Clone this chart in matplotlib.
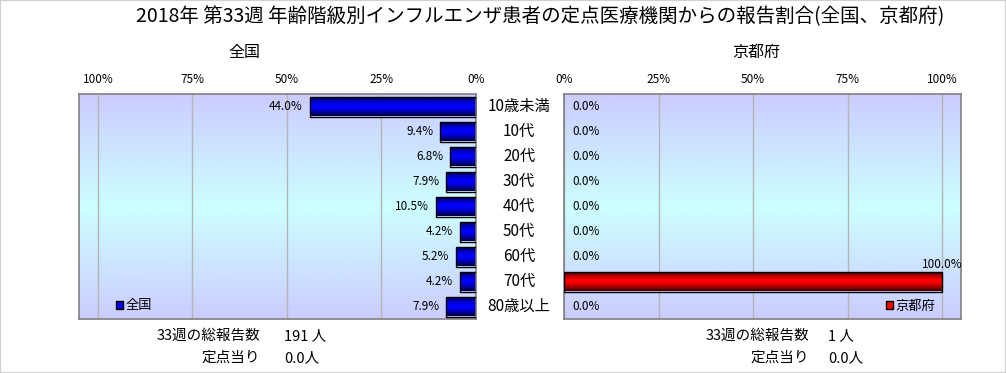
import numpy as np
import matplotlib
matplotlib.use('Agg')
import matplotlib.pyplot as plt
from matplotlib.patches import Patch, Rectangle
from matplotlib.transforms import blended_transform_factory

plt.rcParams['font.family'] = ['Noto Sans CJK JP', 'DejaVu Sans']

# data
categories = ['10歳未満', '10代', '20代', '30代', '40代', '50代', '60代', '70代', '80歳以上']
zenkoku = [44.0, 9.4, 6.8, 7.9, 10.5, 4.2, 5.2, 4.2, 7.9]
kyoto = [0.0, 0.0, 0.0, 0.0, 0.0, 0.0, 0.0, 100.0, 0.0]
tick_vals = [0, 25, 50, 75, 100]
tick_labels = ['0%', '25%', '50%', '75%', '100%']
title = '2018年 第33週 年齢階級別インフルエンザ患者の定点医療機関からの報告割合(全国、京都府)'
total_zenkoku = '191 人'
total_kyoto = '1 人'
per_point_zenkoku = '0.0人'
per_point_kyoto = '0.0人'

W, H = 1006, 373
fig = plt.figure(figsize=(W / 100, H / 100), dpi=100)


def px(x0, y0, x1, y1):
    # pixel box -> figure fraction rect
    return [x0 / W, 1 - y1 / H, (x1 - x0) / W, (y1 - y0) / H]


ax1 = fig.add_axes(px(79, 94, 476, 319))
ax2 = fig.add_axes(px(564, 94, 961, 319))

# background gradient lavender -> light cyan -> lavender
t = np.abs(np.linspace(-1, 1, 256))[:, None, None]
lav = np.array([204, 204, 255]) / 255
cyan = np.array([204, 255, 255]) / 255
bg = t * lav + (1 - t) * cyan


def shade_bars(ax, bars, dark, light):
    s = np.abs(np.linspace(-1, 1, 64))[:, None, None] ** 1.5
    img = s * np.array(dark) + (1 - s) * np.array(light)
    for b in bars:
        if b.get_width() == 0:
            b.set_visible(False)
            continue
        x0, y0, w, h = b.get_x(), b.get_y(), b.get_width(), b.get_height()
        im = ax.imshow(img, extent=[x0, x0 + w, y0 + h, y0], aspect='auto',
                       interpolation='bilinear', zorder=2.5)
        im.set_clip_path(b)
        b.set_facecolor('none')
        b.set_zorder(3)


y = np.arange(len(categories))
for ax, vals, dark, light, lim in [
        (ax1, zenkoku, [0, 0, 0.2], [0, 0, 1], (105, 0)),
        (ax2, kyoto, [0.2, 0, 0], [1, 0, 0], (0, 105))]:
    ax.imshow(bg, extent=[0, 1, 0, 1], transform=ax.transAxes, aspect='auto', zorder=0)
    bars = ax.barh(y, vals, height=0.8, color=light, edgecolor='black', linewidth=1, zorder=3)
    shade_bars(ax, bars, dark, light)
    ax.set_xlim(*lim)
    ax.set_ylim(len(categories) - 0.5, -0.5)
    ax.xaxis.tick_top()
    ax.set_xticks(tick_vals)
    ax.set_xticklabels(tick_labels, fontsize=8.5)
    ax.tick_params(axis='x', length=0, pad=6)
    ax.set_yticks([])
    ax.grid(axis='x', color='#b4b4b4', linewidth=1, zorder=1)
    ax.set_axisbelow(True)
    for sp in ax.spines.values():
        sp.set_color('#808080')
        sp.set_linewidth(1.2)

# data labels
for i, v in enumerate(zenkoku):
    ax1.annotate(f'{v:.1f}%', (v, i), xytext=(-5, 0), textcoords='offset points',
                 ha='right', va='center', fontsize=8.5)
for i, v in enumerate(kyoto):
    if v > 0:
        ax2.annotate(f'{v:.1f}%', (v, i - 0.4), xytext=(0, 0), textcoords='offset points',
                     ha='center', va='bottom', fontsize=8.5)
    else:
        ax2.annotate(f'{v:.1f}%', (v, i), xytext=(6, 0), textcoords='offset points',
                     ha='left', va='center', fontsize=8.5)

# category labels between the panels
tr = blended_transform_factory(fig.transFigure, ax1.transData)
for i, c in enumerate(categories):
    fig.text(519 / W, i, c, transform=tr, ha='center', va='center', fontsize=11)

# legends
ax1.legend(handles=[Patch(facecolor='#0000ff', edgecolor='black')], labels=['全国'],
           loc='center left', bbox_to_anchor=(0.092, 0.058), frameon=False,
           handlelength=0.55, handleheight=0.55, handletextpad=0.2,
           borderpad=0, borderaxespad=0, fontsize=9.5)
ax2.legend(handles=[Patch(facecolor='#ff0000', edgecolor='black')], labels=['京都府'],
           loc='center left', bbox_to_anchor=(0.81, 0.058), frameon=False,
           handlelength=0.55, handleheight=0.55, handletextpad=0.2,
           borderpad=0, borderaxespad=0, fontsize=9.5)

# titles
fig.text(540 / W, 1 - 17 / H, title, ha='center', va='center', fontsize=14)
fig.text(244 / W, 1 - 52 / H, '全国', ha='center', va='center', fontsize=11.5)
fig.text(756 / W, 1 - 52 / H, '京都府', ha='center', va='center', fontsize=11.5)

# totals under the panels
for xr, xv, total, per in [(260, 284, total_zenkoku, per_point_zenkoku),
                           (809, 828, total_kyoto, per_point_kyoto)]:
    fig.text(xr / W, 1 - 336 / H, '33週の総報告数', ha='right', va='center', fontsize=10.5)
    fig.text(xv / W, 1 - 336 / H, total, ha='left', va='center', fontsize=10.5)
    fig.text(xr / W, 1 - 358 / H, '定点当り', ha='right', va='center', fontsize=10.5)
    fig.text(xv / W, 1 - 358 / H, per, ha='left', va='center', fontsize=10.5)

# outer border
fig.patches.append(Rectangle((0, 0), 1, 1, transform=fig.transFigure, fill=False,
                             edgecolor='#d0d0d0', linewidth=1.5))

fig.savefig('out.png', dpi=100)
